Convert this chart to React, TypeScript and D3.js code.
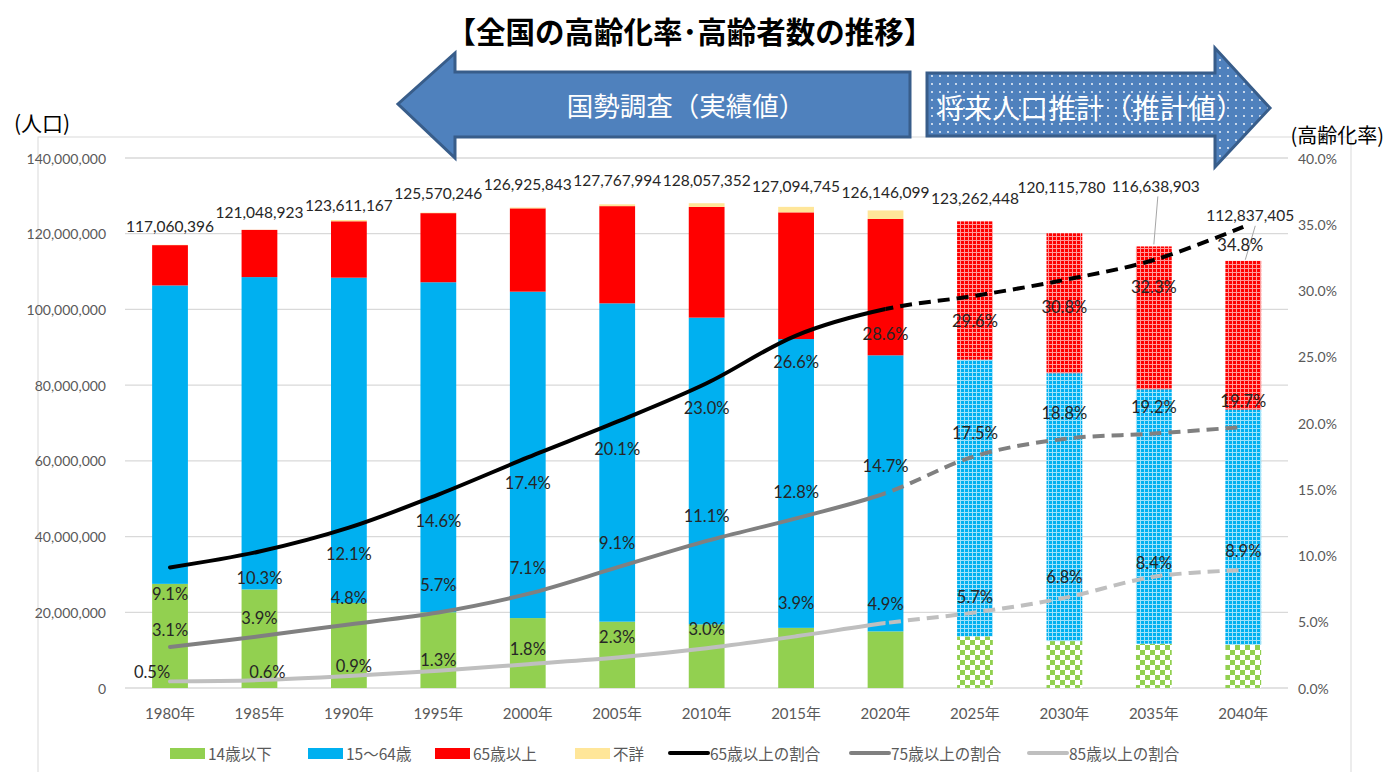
import React from 'react';
import * as d3 from 'd3';

// ---------- data ----------
const years = ['1980年', '1985年', '1990年', '1995年', '2000年', '2005年', '2010年', '2015年', '2020年', '2025年', '2030年', '2035年', '2040年'];
const age0to14 = [27507078, 26033218, 22486239, 20013730, 18472499, 17521234, 16803444, 15886810, 14955692, 13633000, 12397000, 11691000, 11419000];
const age15to64 = [78834599, 82506016, 85903976, 87164721, 86219631, 84092414, 81031800, 76288736, 72922764, 73101000, 70757000, 67216000, 62133000];
const age65plus = [10647356, 12468343, 14894595, 18260822, 22005152, 25672005, 29245685, 33465441, 36026632, 36528448, 36961780, 37731903, 39285405];
const ageUnknown = [71363, 41346, 326357, 130973, 228561, 482341, 976423, 1453758, 2241011, 0, 0, 0, 0];
const totals = ['117,060,396', '121,048,923', '123,611,167', '125,570,246', '126,925,843', '127,767,994', '128,057,352', '127,094,745', '126,146,099', '123,262,448', '120,115,780', '116,638,903', '112,837,405'];
const rate65 = [9.1, 10.3, 12.1, 14.6, 17.4, 20.1, 23.0, 26.6, 28.6, 29.6, 30.8, 32.3, 34.8];
const rate75 = [3.1, 3.9, 4.8, 5.7, 7.1, 9.1, 11.1, 12.8, 14.7, 17.5, 18.8, 19.2, 19.7];
const rate85 = [0.5, 0.6, 0.9, 1.3, 1.8, 2.3, 3.0, 3.9, 4.9, 5.7, 6.8, 8.4, 8.9];
const projectedFrom = 9; // index of first projected year
const leftTicks = [0, 20e6, 40e6, 60e6, 80e6, 100e6, 120e6, 140e6];
const rightTicks = [0, 5, 10, 15, 20, 25, 30, 35, 40];

// label layout (offsets in px)
const totalDy = [-19, -18, -15, -20, -23, -24, -23, -21, -18, -23, -46, -60, -46];
const totalDx = [0, 0, 0, 0, 0, 0, 0, 0, 0, 0, -3, 2, 7];
const r65Dy = [27, 26, 26, 26, 26, 27, 25, 26, 25, 25, 27, 27, 18];
const r65Dx = [0, 0, 0, 0, 0, 0, 0, 0, 0, 0, 0, 0, -3];
const r75Dy = [-17, -18, -26, -27, -26, -24, -25, -26, -27, -23, -26, -27, -26];
const r85Dy = [-9, -8, -10, -11, -15, -21, -19, -33, -19, -15, -21, -14, -19];
const r85Dx = [-18, 8, 5, 0, 0, 0, 0, 0, 0, 0, 0, 0, 0];

const C_GREEN = '#92D050';
const C_BLUE = '#00B0F0';
const C_RED = '#FF0000';
const C_UNK = '#FFE699';
const C_TXT = '#595959';
const NUMFONT = "Lato, 'Noto Sans CJK JP', sans-serif";
const JPFONT = "'Noto Sans CJK JP', sans-serif";

export default function App() {
  const W = 1384, H = 772;
  const x = d3.scaleBand<string>().domain(years).range([125.3, 1288]).paddingInner(0.6).paddingOuter(0.3);
  const y = d3.scaleLinear().domain([0, 140e6]).range([688, 158]);
  const yr = d3.scaleLinear().domain([0, 40]).range([688, 158]);
  const bw = x.bandwidth();
  const cx = (i: number) => (x(years[i]) as number) + bw / 2;

  const stackData = years.map((yy, i) => ({ i, a: age0to14[i], b: age15to64[i], c: age65plus[i], d: ageUnknown[i] }));
  const stack = d3.stack<any>().keys(['a', 'b', 'c', 'd'])(stackData);
  const solidFill: Record<string, string> = { a: C_GREEN, b: C_BLUE, c: C_RED, d: C_UNK };
  const patFill: Record<string, string> = { a: 'url(#patGreen)', b: 'url(#patBlue)', c: 'url(#patRed)', d: C_UNK };

  const line = d3.line<number>().x((_, i) => cx(i)).y(v => yr(v)).curve(d3.curveCatmullRom.alpha(0.5));
  const splitX = cx(projectedFrom - 1);

  const series = [
    { vals: rate65, color: '#000000', w: 4, dash: '12,7' },
    { vals: rate75, color: '#808080', w: 4, dash: '12,7' },
    { vals: rate85, color: '#BFBFBF', w: 4, dash: '12,7' },
  ];

  const legendItems = [
    { type: 'rect', color: C_GREEN, label: '14歳以下', x: 170 },
    { type: 'rect', color: C_BLUE, label: '15～64歳', x: 308 },
    { type: 'rect', color: C_RED, label: '65歳以上', x: 435 },
    { type: 'rect', color: C_UNK, label: '不詳', x: 575 },
    { type: 'line', color: '#000000', label: '65歳以上の割合', x: 670 },
    { type: 'line', color: '#808080', label: '75歳以上の割合', x: 851 },
    { type: 'line', color: '#BFBFBF', label: '85歳以上の割合', x: 1029 },
  ];

  return (
    <svg width={W} height={H} style={{ position: 'absolute', left: 0, top: 0, background: '#fff' }}>
      <defs>
        <pattern id="patRed" width="4" height="4" patternUnits="userSpaceOnUse">
          <rect width="4" height="4" fill="#FF9A9A" shapeRendering="crispEdges" />
          <rect x="1" y="1" width="3" height="3" fill={C_RED} shapeRendering="crispEdges" />
        </pattern>
        <pattern id="patBlue" width="4" height="4" patternUnits="userSpaceOnUse">
          <rect width="4" height="4" fill="#9FE2FA" shapeRendering="crispEdges" />
          <rect x="1" y="1" width="3" height="3" fill={C_BLUE} shapeRendering="crispEdges" />
        </pattern>
        <pattern id="patGreen" width="10" height="10" patternUnits="userSpaceOnUse">
          <rect width="10" height="10" fill="#fff" shapeRendering="crispEdges" />
          <rect width="5" height="5" fill={C_GREEN} shapeRendering="crispEdges" />
          <rect x="5" y="5" width="5" height="5" fill={C_GREEN} shapeRendering="crispEdges" />
        </pattern>
        <pattern id="patDots" width="8" height="8" patternUnits="userSpaceOnUse">
          <rect width="8" height="8" fill="#4F81BD" />
          <circle cx="4" cy="4" r="0.9" fill="#fff" />
        </pattern>
        <clipPath id="clipSolid"><rect x={0} y={0} width={splitX} height={H} /></clipPath>
        <clipPath id="clipDash"><rect x={splitX} y={0} width={W - splitX} height={H} /></clipPath>
      </defs>

      {/* chart area border */}
      <rect x={38} y={137} width={1313} height={680} fill="none" stroke="#D9D9D9" strokeWidth={1} />

      {/* gridlines */}
      {leftTicks.map(t => (
        <line key={t} x1={125} x2={1288} y1={y(t)} y2={y(t)} stroke="#D9D9D9" strokeWidth={1.3} />
      ))}

      {/* left axis labels */}
      {leftTicks.map(t => (
        <text key={t} x={106} y={y(t)} textAnchor="end" dominantBaseline="central" fontFamily={NUMFONT} fontSize={14} fill={C_TXT}>
          {d3.format(',')(t)}
        </text>
      ))}
      {/* right axis labels */}
      {rightTicks.map(t => (
        <text key={t} x={1298} y={yr(t)} dominantBaseline="central" fontFamily={NUMFONT} fontSize={14} fill={C_TXT}>
          {t.toFixed(1)}%
        </text>
      ))}
      {/* category labels */}
      {years.map((yy, i) => (
        <text key={yy} x={cx(i)} y={713} textAnchor="middle" dominantBaseline="central" fontFamily={NUMFONT} fontSize={15} fill={C_TXT}>
          {yy}
        </text>
      ))}

      {/* bars */}
      {stack.map(s => (
        <g key={s.key}>
          {s.map((d, i) => (
            d[1] - d[0] > 0 ? (
              <rect key={i} x={x(years[i])} width={bw} y={y(d[1])} height={y(d[0]) - y(d[1])}
                fill={i >= projectedFrom ? patFill[s.key] : solidFill[s.key]} />
            ) : null
          ))}
        </g>
      ))}

      {/* leader lines */}
      <line x1={cx(11) + 4} y1={y(116.64e6) - 50} x2={cx(11)} y2={y(116.64e6) - 2} stroke="#A6A6A6" strokeWidth={1} />
      <line x1={cx(12) + 12} y1={y(112.84e6) - 35} x2={cx(12) + 2} y2={y(112.84e6) - 1} stroke="#A6A6A6" strokeWidth={1} />

      {/* lines */}
      {series.map((s, k) => (
        <g key={k}>
          <path d={line(s.vals) as string} fill="none" stroke={s.color} strokeWidth={s.w} strokeLinecap="round" clipPath="url(#clipSolid)" />
          <path d={line(s.vals) as string} fill="none" stroke={s.color} strokeWidth={s.w} strokeDasharray={s.dash} clipPath="url(#clipDash)" />
        </g>
      ))}

      {/* total labels */}
      {totals.map((t, i) => (
        <text key={i} x={cx(i) + totalDx[i]} y={y(age0to14[i] + age15to64[i] + age65plus[i] + ageUnknown[i]) + totalDy[i]}
          textAnchor="middle" dominantBaseline="central" fontFamily={NUMFONT} fontSize={15.5} fill="#262626">
          {t}
        </text>
      ))}

      {/* rate labels */}
      {rate65.map((v, i) => (
        <text key={'a' + i} x={cx(i) + r65Dx[i]} y={yr(v) + r65Dy[i]} textAnchor="middle" dominantBaseline="central" fontFamily={NUMFONT} fontSize={16.5} fill="#262626">
          {v.toFixed(1)}%
        </text>
      ))}
      {rate75.map((v, i) => (
        <text key={'b' + i} x={cx(i)} y={yr(v) + r75Dy[i]} textAnchor="middle" dominantBaseline="central" fontFamily={NUMFONT} fontSize={16.5} fill="#262626">
          {v.toFixed(1)}%
        </text>
      ))}
      {rate85.map((v, i) => (
        <text key={'c' + i} x={cx(i) + r85Dx[i]} y={yr(v) + r85Dy[i]} textAnchor="middle" dominantBaseline="central" fontFamily={NUMFONT} fontSize={16.5} fill="#262626">
          {v.toFixed(1)}%
        </text>
      ))}

      {/* axis titles */}
      <text x={14} y={122} dominantBaseline="central" fontFamily={JPFONT} fontSize={21} fill="#000">(人口)</text>
      <text x={1384} y={134} textAnchor="end" dominantBaseline="central" fontFamily={JPFONT} fontSize={20} fill="#000">(高齢化率)</text>

      {/* title */}
      <text x={690} y={30} textAnchor="middle" dominantBaseline="central" fontFamily={JPFONT} fontSize={29.5} fontWeight="bold" fill="#000">
        【全国の高齢化率･高齢者数の推移】
      </text>

      {/* arrows */}
      <path d="M910,72 L455,72 L455,53 L398,104 L455,158 L455,137 L910,137 Z" fill="#4F81BD" stroke="#385D8A" strokeWidth={3} strokeLinejoin="miter" />
      <text x={686} y={104} textAnchor="middle" dominantBaseline="central" fontFamily={JPFONT} fontSize={26.5} fill="#fff">国勢調査（実績値）</text>
      <path d="M927,73 L1215,73 L1215,48 L1270,108 L1215,167 L1215,136 L927,136 Z" fill="url(#patDots)" stroke="#385D8A" strokeWidth={3} strokeLinejoin="miter" />
      <text x={1090} y={107} textAnchor="middle" dominantBaseline="central" fontFamily={JPFONT} fontSize={28} fill="#fff">将来人口推計（推計値）</text>

      {/* legend */}
      {legendItems.map((it, k) => (
        <g key={k}>
          {it.type === 'rect'
            ? <rect x={it.x} y={748} width={35} height={11} fill={it.color} />
            : <line x1={it.x} x2={it.x + 38} y1={753} y2={753} stroke={it.color} strokeWidth={4} strokeLinecap="round" />}
          <text x={it.x + (it.type === 'rect' ? 38 : 40)} y={753} dominantBaseline="central" fontFamily={JPFONT} fontSize={15.5} fill={C_TXT}>
            {it.label}
          </text>
        </g>
      ))}
    </svg>
  );
}
